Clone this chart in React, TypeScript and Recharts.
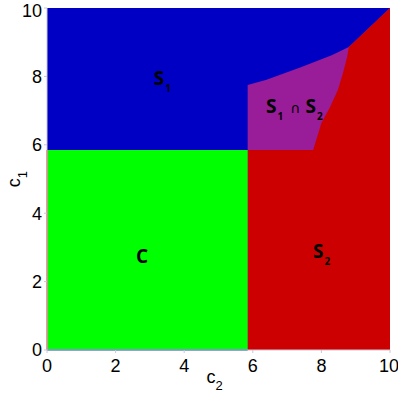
import { ComposedChart, Area, Line, Scatter, XAxis, YAxis, Label } from "recharts";

// lower edge of S1 (blue) region, c1 as a function of c2
const s1EdgeC2 = [0, 5.85, 5.85, 6.4, 7.4, 8.3, 8.8, 10];
const s1EdgeC1 = [5.85, 5.85, 7.75, 7.9, 8.27, 8.62, 8.86, 10];

// upper edge of S2 (red) region
const s2EdgeC2 = [5.85, 7.76, 8.0, 8.25, 8.48, 8.63, 8.75, 8.8, 10];
const s2EdgeC1 = [5.85, 5.85, 6.64, 7.1, 7.6, 8.1, 8.57, 8.86, 10];

// C (green) block
const cBlockC2 = [0, 5.85];
const cBlockC1 = [5.85, 5.85];

const TICKS = [0, 2, 4, 6, 8, 10];

const regionText = ["S₁", "C", "S₂", "S₁ ∩ S₂"];
const regionC2 = [3.29, 2.77, 7.93, 6.56];
const regionC1 = [7.94, 2.72, 2.89, 7.12];

const COLORS = {
  s1: "#0000c4",
  s2: "#cc0000",
  both: "#991c99",
  c: "#00ff00",
};

const toRows = (xs: number[], ys: number[]) => xs.map((c2, i) => ({ c2, c1: ys[i] }));

const s1Edge = toRows(s1EdgeC2, s1EdgeC1);
const s2Edge = toRows(s2EdgeC2, s2EdgeC1);
const cBlock = toRows(cBlockC2, cBlockC1);
const fullTop = toRows([0, 10], [10, 10]);
const leftLine = toRows([0, 0], [0, 5.85]);
const bottomLine = toRows([0, 5.85], [0, 0]);
const regions = regionText.map((name, i) => ({ name, c2: regionC2[i], c1: regionC1[i] }));

const SUB: Record<string, string> = { "₁": "1", "₂": "2" };

function RegionLabel(props: any) {
  const { cx, cy, payload } = props;
  const parts: any[] = [];
  let shifted = false;
  Array.from(payload.name as string).forEach((ch, i) => {
    if (SUB[ch]) {
      parts.push(
        <tspan key={i} fontSize={10} dy={7} dx={1}>
          {SUB[ch]}
        </tspan>
      );
      shifted = true;
    } else if (ch === " ") {
      return;
    } else if (ch === "∩") {
      parts.push(
        <tspan key={i} fontSize={14} fontWeight="normal" dy={shifted ? -7 : 0} dx={7} fontFamily="DejaVu Sans">
          {ch}
        </tspan>
      );
      shifted = false;
    } else {
      parts.push(
        <tspan key={i} dy={shifted ? -7 : 0} dx={parts.length ? 5 : 0}>
          {ch}
        </tspan>
      );
      shifted = false;
    }
  });
  return (
    <text x={cx - 6} y={cy + 6.5} fontFamily="Open Sans" fontWeight="bold" fontSize={19} fill="#000">
      {parts}
    </text>
  );
}

function XTitle(props: any) {
  const vb = props.viewBox;
  const x = vb.x + vb.width / 2 - 12;
  return (
    <text x={x} y={vb.y + 33} fontFamily="Liberation Sans" fontSize={18} fill="#000">
      c
      <tspan fontSize={13} dy={7}>
        2
      </tspan>
    </text>
  );
}

function YTitle(props: any) {
  const vb = props.viewBox;
  const cx = 20;
  const cy = vb.y + vb.height / 2;
  return (
    <text
      x={cx}
      y={cy}
      transform={`rotate(-90, ${cx}, ${cy})`}
      textAnchor="middle"
      fontFamily="Liberation Sans"
      fontSize={18}
      fill="#000"
    >
      c
      <tspan fontSize={13} dy={7}>
        1
      </tspan>
    </text>
  );
}

export default function App() {
  const tick = { fontFamily: "Liberation Sans", fontSize: 18, fill: "#000" };
  return (
    <div style={{ position: "absolute", left: 0, top: 0 }}>
      <ComposedChart width={398} height={394} margin={{ top: 8, right: 8, left: 0, bottom: 0 }}>
        <XAxis
          type="number"
          dataKey="c2"
          domain={[0, 10]}
          ticks={TICKS}
          height={44}
          tick={tick}
          tickSize={3}
          tickMargin={6}
          stroke="#c8c8d4"
        >
          <Label content={XTitle} />
        </XAxis>
        <YAxis
          type="number"
          dataKey="c1"
          domain={[0, 10]}
          ticks={TICKS}
          width={47}
          tick={tick}
          tickSize={3}
          tickMargin={2}
          stroke="#c8c8d4"
        >
          <Label content={YTitle} />
        </YAxis>
        <Area data={fullTop} dataKey="c1" type="linear" fill={COLORS.s1} fillOpacity={1} stroke="none" isAnimationActive={false} />
        <Area data={s1Edge} dataKey="c1" type="linear" fill={COLORS.both} fillOpacity={1} stroke="none" isAnimationActive={false} />
        <Area data={s2Edge} dataKey="c1" type="linear" fill={COLORS.s2} fillOpacity={1} stroke="none" isAnimationActive={false} />
        <Area data={cBlock} dataKey="c1" type="linear" fill={COLORS.c} fillOpacity={1} stroke="none" isAnimationActive={false} />
        <Line data={leftLine} dataKey="c1" type="linear" stroke="#e0503a" strokeWidth={1.5} dot={false} isAnimationActive={false} />
        <Line data={bottomLine} dataKey="c1" type="linear" stroke="#2a4fe0" strokeWidth={1.5} dot={false} isAnimationActive={false} />
        <Scatter data={regions} dataKey="c1" shape={RegionLabel} isAnimationActive={false} />
      </ComposedChart>
    </div>
  );
}
